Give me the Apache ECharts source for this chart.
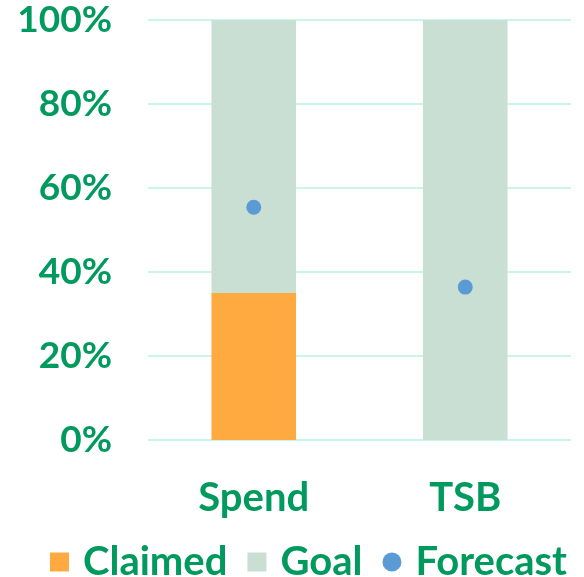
<!DOCTYPE html>
<html>
<head>
<meta charset="utf-8">
<script src="https://cdn.jsdelivr.net/npm/echarts@6/dist/echarts.min.js"></script>
<style>
  html, body { margin: 0; padding: 0; background: #fff; }
  #chart { width: 584px; height: 577px; }
</style>
</head>
<body>
<div id="chart"></div>
<script>
const categories = ["Spend", "TSB"];
const claimed = [35, 0];
const goal = [65, 100];
const forecast = [55.4, 36.4];
const yTicks = [0, 20, 40, 60, 80, 100];

const green = "#009A5E";
const font = "Lato";

const chart = echarts.init(document.getElementById("chart"));
const option = {
  animation: false,
  textStyle: { fontFamily: font },
  grid: { left: 148, right: 13, top: 20, bottom: 137 },
  legend: {
    top: 537,
    left: 45,
    itemWidth: 19,
    itemHeight: 19,
    itemGap: 20,
    textStyle: {
      color: green,
      fontSize: 40,
      fontWeight: "bold",
      fontFamily: font,
      padding: [0, 0, 0, 9],
    },
    data: [
      { name: "Claimed", icon: "rect" },
      { name: "Goal", icon: "rect" },
      { name: "Forecast", icon: "circle" },
    ],
  },
  xAxis: {
    type: "category",
    data: categories,
    axisTick: { show: false },
    axisLine: { show: false },
    axisLabel: { color: green, fontSize: 40, fontWeight: "bold", margin: 38 },
  },
  yAxis: {
    type: "value",
    min: yTicks[0],
    max: yTicks[yTicks.length - 1],
    interval: 20,
    axisLine: { show: false },
    axisTick: { show: false },
    splitLine: { lineStyle: { color: "#C8F7E8", width: 2 } },
    axisLabel: {
      color: green,
      fontSize: 37,
      fontWeight: "bold",
      margin: 36,
      formatter: (v) => v + "%",
    },
  },
  series: [
    {
      name: "Claimed",
      type: "bar",
      stack: "total",
      barWidth: "40%",
      itemStyle: { color: "#FFAA40" },
      data: claimed,
    },
    {
      name: "Goal",
      type: "bar",
      stack: "total",
      barWidth: "40%",
      itemStyle: { color: "#C9DFD3" },
      data: goal,
    },
    {
      name: "Forecast",
      type: "scatter",
      symbolSize: 15,
      itemStyle: { color: "#5B9BD5", opacity: 1 },
      data: forecast,
      z: 5,
    },
  ],
};
chart.setOption(option);
</script>
</body>
</html>
